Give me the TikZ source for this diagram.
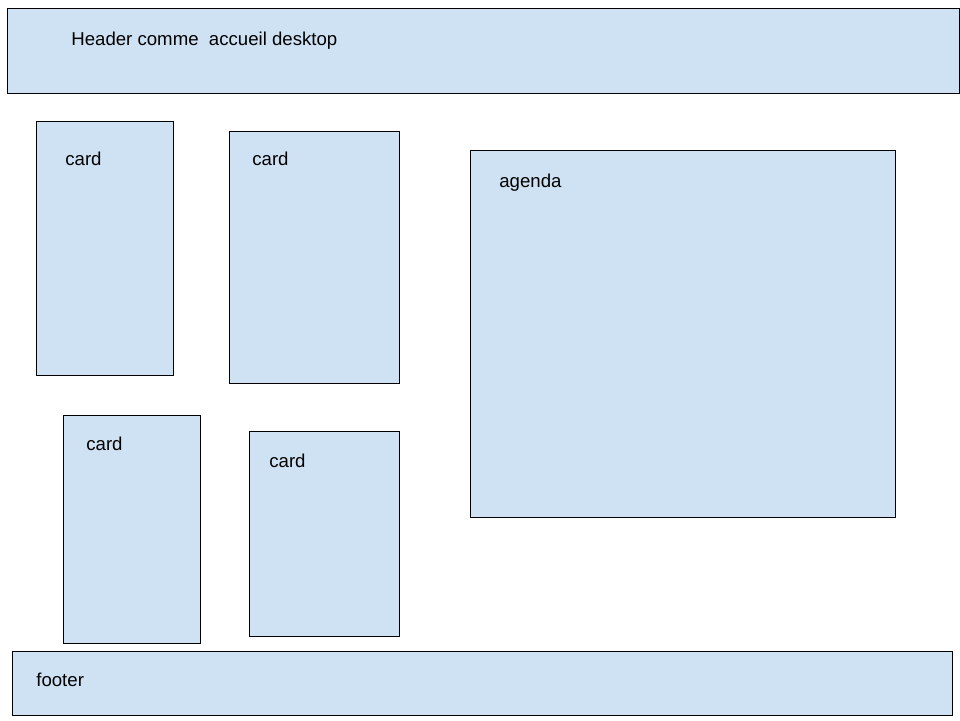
\documentclass[tikz,border=0pt]{standalone}
\usepackage{fontspec}
\setmainfont{Liberation Sans}
\definecolor{paneblue}{HTML}{CFE2F3}

\begin{document}
\begin{tikzpicture}[x=0.02cm, y=-0.02cm,
    box/.style={draw=black, fill=paneblue, line width=0.45pt},
    lbl/.style={anchor=west, inner sep=0pt, font=\fontsize{10.6}{12.5}\selectfont}]
    \useasboundingbox (0,0) rectangle (960,720);

    % header and footer
    \draw[box] (7,8) rectangle (959,93);
    \node[lbl] (head) at (71,41) {Header comme \ accueil desktop};
    \draw[box] (12,651) rectangle (952,715);
    \node[lbl] (foot) at (36,680) {footer};

    % cards
    \draw[box] (36,121) rectangle (173,375);
    \node[lbl] (c1) at (65,159) {card};
    \draw[box] (229,131) rectangle (399,383);
    \node[lbl] (c2) at (252,159) {card};
    \draw[box] (63,415) rectangle (200,643);
    \node[lbl] (c3) at (86,444) {card};
    \draw[box] (249,431) rectangle (399,636);
    \node[lbl] (c4) at (269,461) {card};

    % agenda
    \draw[box] (470,150) rectangle (895,517);
    \node[lbl] (ag) at (499,183) {agenda};
\end{tikzpicture}
\end{document}
